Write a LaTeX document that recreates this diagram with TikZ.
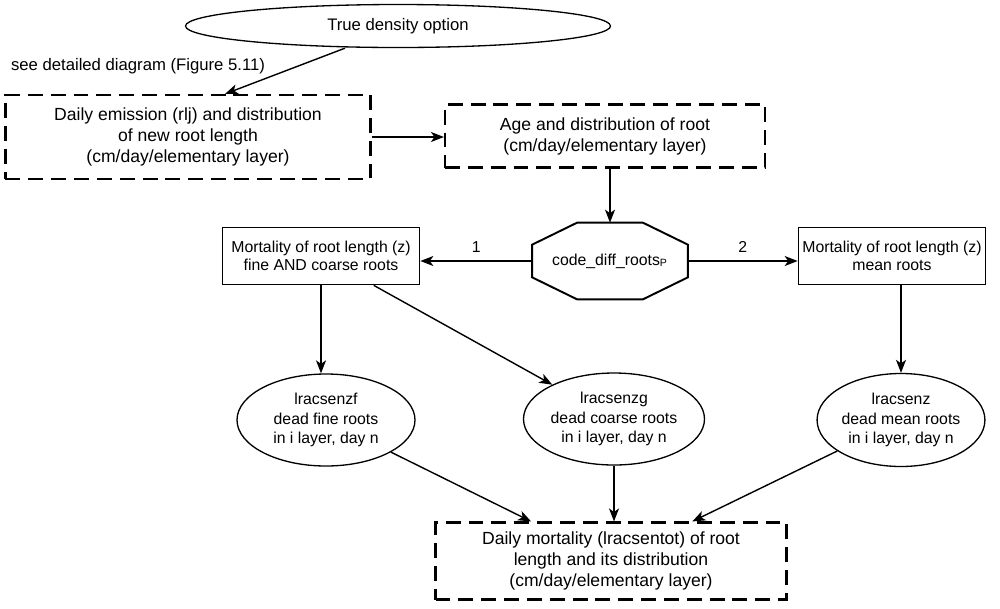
\documentclass[tikz,border=0pt]{standalone}
\usepackage{fontspec}
\setmainfont{Liberation Sans}
\usetikzlibrary{arrows.meta,positioning,calc,shapes.geometric}

\begin{document}
\begin{tikzpicture}[
  x=0.2mm, y=-0.2mm,
  dashbox/.style={draw, line width=1.2pt, dash pattern=on 8.5pt off 4.5pt, align=center, inner sep=0pt, font=\fontsize{10}{12}\selectfont},
  solidbox/.style={draw, line width=0.95pt, align=center, inner sep=0pt, font=\fontsize{9}{10.5}\selectfont},
  oval/.style={ellipse, draw, line width=0.75pt, align=center, inner sep=0pt, font=\fontsize{9}{11}\selectfont},
  arrow/.style={-{Stealth[length=2.6mm,width=2mm,inset=0.7mm]}, line width=0.8pt},
  lbl/.style={font=\fontsize{9}{11}\selectfont}
]
\useasboundingbox (0,0) rectangle (1000,608);

\node[oval, minimum width=8.5cm, minimum height=0.86cm, font=\fontsize{9.5}{11}\selectfont] (density) at (398,26) {True density option};
\node[lbl, font=\fontsize{9.5}{11}\selectfont] (seefig) at (138,66) {see detailed diagram (Figure 5.11)};
\node[dashbox, minimum width=7.3cm, minimum height=1.68cm] (emission) at (188,137) {Daily emission (rlj) and distribution\\of new root length\\(cm/day/elementary layer)};
\node[dashbox, minimum width=6.4cm, minimum height=1.26cm] (age) at (605,136) {Age and distribution of root\\(cm/day/elementary layer)};

% switch on code_diff_roots (octagon drawn around the node)
\node[minimum width=3.1cm, minimum height=1.52cm, inner sep=0pt, font=\fontsize{9}{11}\selectfont] (switch) at (610,261) {code\_diff\_roots\textsubscript{P}};
\draw[line width=1.1pt] ($(switch.north west)+(45,0)$) -- ($(switch.north east)+(-45,0)$)
  -- ($(switch.north east)+(0,22)$) -- ($(switch.south east)+(0,-22)$)
  -- ($(switch.south east)+(-45,0)$) -- ($(switch.south west)+(45,0)$)
  -- ($(switch.south west)+(0,-22)$) -- ($(switch.north west)+(0,22)$) -- cycle;

\node[solidbox, minimum width=3.94cm, minimum height=1.14cm] (mortfc) at (321,256) {Mortality of root length (z)\\fine AND coarse roots};
\node[solidbox, minimum width=3.74cm, minimum height=1.14cm] (mortmean) at (892,256) {Mortality of root length (z)\\mean roots};

\node[oval, minimum width=3.56cm, minimum height=1.84cm] (deadfine) at (326,420) {lracsenzf\\dead fine roots\\in i layer, day n};
\node[oval, minimum width=3.62cm, minimum height=1.84cm] (deadcoarse) at (614,419) {lracsenzg\\dead coarse roots\\in i layer, day n};
\node[oval, minimum width=3.34cm, minimum height=1.86cm] (deadmean) at (901,420) {lracsenz\\dead mean roots\\in i layer, day n};

\node[dashbox, minimum width=7.02cm, minimum height=1.54cm] (total) at (611,561) {Daily mortality (lracsentot) of root\\length and its distribution\\(cm/day/elementary layer)};

\draw[arrow] ([xshift=-10.6mm]density.south) -- ([xshift=7.4mm]emission.north);
\draw[arrow] (emission.east) -- (emission.east -| age.west);
\draw[arrow] (switch.north |- age.south) -- (switch.north);
\draw[arrow] (switch.west) -- (switch.west -| mortfc.east) node[lbl, midway, above=1pt] {1};
\draw[arrow] (switch.east) -- (switch.east -| mortmean.west) node[lbl, midway, above=1pt] {2};
\draw[arrow] (mortfc.south) -- (mortfc.south |- deadfine.north);
\draw[arrow] (mortfc) -- (deadcoarse);
\draw[arrow] (mortmean.south -| deadmean) -- (deadmean.north);
\draw[arrow] (deadfine) -- (total);
\draw[arrow] (deadcoarse.south) -- (deadcoarse.south |- total.north);
\draw[arrow] (deadmean) -- (total);
\end{tikzpicture}
\end{document}
